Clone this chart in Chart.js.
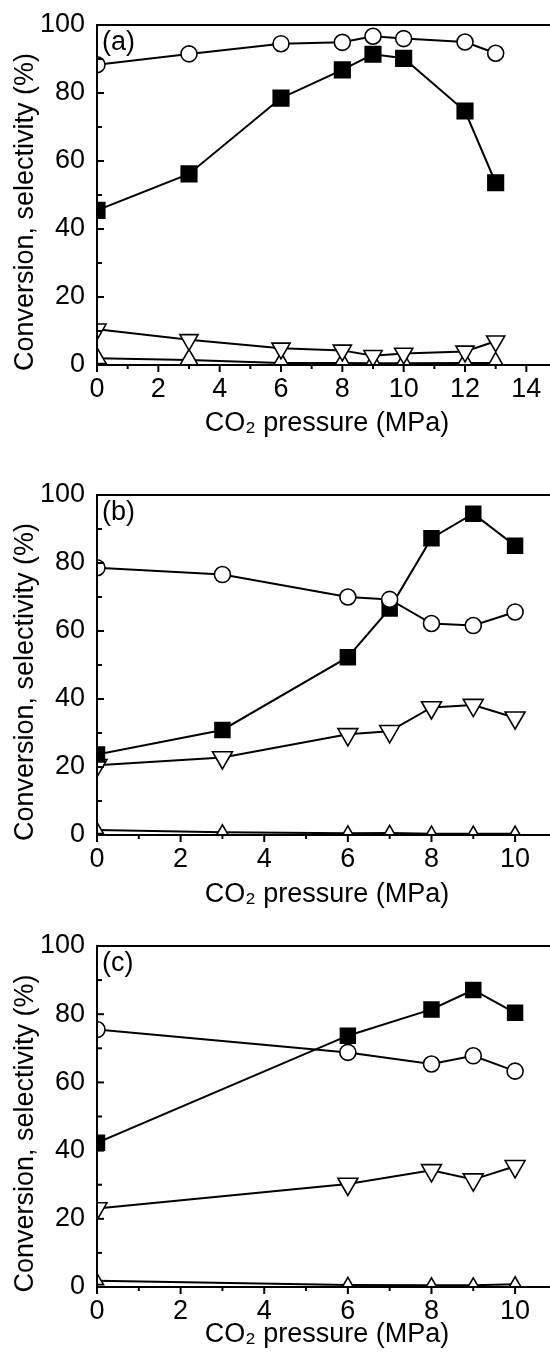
<!DOCTYPE html>
<html><head><meta charset="utf-8">
<script src="https://cdn.jsdelivr.net/npm/chart.js@4.4.1/dist/chart.umd.min.js"></script>
<style>
html,body{margin:0;padding:0;background:#fff;overflow:hidden;width:550px;height:1358px;position:relative;}
.p{position:absolute;left:0;width:570px;}
canvas{display:block;}
</style></head><body>
<div class="p" style="top:0;height:445px"><canvas id="ca"></canvas></div>
<div class="p" style="top:445px;height:470px"><canvas id="cb"></canvas></div>
<div class="p" style="top:915px;height:443px"><canvas id="cc"></canvas></div>
<script>
// ---- data ----
const pressureA = [0, 3, 6, 8, 9, 10, 12, 13];
const conversionA = [45.5, 56.2, 78.5, 86.8, 91.4, 90.2, 74.7, 53.6];
const selCircleA = [88.3, 91.5, 94.5, 94.9, 96.7, 96.0, 95.0, 91.7];
const selDownA = [10.5, 7.4, 4.9, 4.3, 2.7, 3.4, 4.0, 7.0];
const selUpA = [2.0, 1.5, 0.6, 0.6, 0.5, 0.5, 0.6, 0.6];

const pressureB = [0, 3, 6, 7, 8, 9, 10];
const conversionB = [23.7, 30.9, 52.3, 66.6, 87.3, 94.5, 85.1];
const selCircleB = [78.6, 76.6, 70.0, 69.3, 62.2, 61.6, 65.6];
const selDownB = [20.5, 22.8, 29.6, 30.5, 37.5, 38.2, 34.5];
const selUpB = [1.5, 0.8, 0.5, 0.6, 0.4, 0.4, 0.4];

const pressureC = [0, 6, 8, 9, 10];
const conversionC = [42.3, 73.7, 81.4, 87.1, 80.4];
const selCircleC = [75.5, 68.8, 65.4, 67.8, 63.3];
const selDownC = [23.0, 30.2, 34.2, 31.5, 35.4];
const selUpC = [1.8, 0.6, 0.5, 0.5, 0.8];

const panelLabels = ['(a)', '(b)', '(c)'];
const xTitle = 'CO\u2082 pressure (MPa)';
const yTitle = 'Conversion, selectivity (%)';
const xMaxA = 15, xMaxBC = 11;
const yMin = 0, yMax = 100;

const FONT = "'Liberation Sans', Arial, Helvetica, sans-serif";

function pts(xs, ys) { return xs.map((x, i) => ({x: x, y: ys[i]})); }

const framePlugin = {
  id: 'frame',
  afterDraw(chart) {
    const o = chart.options.plugins.frame;
    const ctx = chart.ctx, a = chart.chartArea;
    const xs = chart.scales.x, ys = chart.scales.y;
    ctx.save();
    ctx.strokeStyle = '#000';
    ctx.lineWidth = 2;
    ctx.lineCap = 'square';
    ctx.beginPath();
    ctx.moveTo(a.right + 20, a.top); ctx.lineTo(a.left, a.top);
    ctx.lineTo(a.left, a.bottom); ctx.lineTo(a.right + 20, a.bottom);
    ctx.stroke();
    ctx.lineCap = 'butt';
    ctx.lineWidth = 2;
    // x ticks (outward)
    for (let v = xs.min; v <= xs.max; v += 1) {
      const px = xs.getPixelForValue(v);
      const len = (v % 2 === 0) ? 7 : 4;
      ctx.beginPath(); ctx.moveTo(px, a.bottom); ctx.lineTo(px, a.bottom + len); ctx.stroke();
    }
    // y ticks (inward)
    for (let v = yMin; v <= yMax; v += 10) {
      const py = ys.getPixelForValue(v);
      const len = (v % 20 === 0) ? 7 : 5;
      ctx.beginPath(); ctx.moveTo(a.left, py); ctx.lineTo(a.left + len, py); ctx.stroke();
    }
    ctx.fillStyle = '#000';
    ctx.font = o.fontSize + 'px ' + FONT;
    // panel label
    ctx.textAlign = 'left'; ctx.textBaseline = 'top';
    ctx.fillText(o.label, a.left + 5, a.top + 4);
    // x title
    ctx.textAlign = 'center'; ctx.textBaseline = 'alphabetic';
    ctx.fillText(xTitle, (a.left + a.right) / 2, o.xTitleBase);
    // y title
    ctx.save();
    ctx.translate(o.yTitleX, (a.top + a.bottom) / 2 + o.yTitleShift);
    ctx.rotate(-Math.PI / 2);
    ctx.textBaseline = 'middle';
    ctx.fillText(yTitle, 0, 0);
    ctx.restore();
    ctx.restore();
  }
};

function makePanel(id, cfg) {
  const H = cfg.height;
  const ds = (label, ys, style) => Object.assign({
    label: label, data: pts(cfg.x, ys), borderColor: '#000', borderWidth: 2,
    pointBorderColor: '#000', pointBorderWidth: 1.6, tension: 0, clip: 0
  }, style);
  new Chart(document.getElementById(id), {
    type: 'line',
    data: { datasets: [
      ds('Selectivity (circle)', cfg.circle, {pointStyle: 'circle', pointRadius: 8, pointBackgroundColor: '#fff'}),
      ds('Conversion', cfg.conv, {pointStyle: 'rect', pointRadius: cfg.sq, pointBackgroundColor: '#000'}),
      ds('Selectivity (down triangle)', cfg.down, {pointStyle: 'triangle', pointRotation: 180, pointRadius: cfg.dn, pointBackgroundColor: '#fff'}),
      ds('Selectivity (up triangle)', cfg.up, {pointStyle: 'triangle', pointRadius: cfg.upr, pointBackgroundColor: '#fff'})
    ]},
    options: {
      responsive: true, maintainAspectRatio: false, animation: false,
      events: [],
      layout: { padding: { top: cfg.top, left: 0, right: 13, bottom: 0 } },
      plugins: {
        legend: {display: false}, tooltip: {enabled: false},
        frame: { label: cfg.label, fontSize: 27, xTitleBase: cfg.xTitleBase, yTitleX: 26, yTitleShift: 17 }
      },
      scales: {
        x: {
          type: 'linear', min: 0, max: cfg.xMax,
          grid: {display: false, drawTicks: false}, border: {display: false},
          afterBuildTicks(s) { const t = []; for (let v = 0; v <= cfg.xMax; v++) t.push({value: v}); s.ticks = t; },
          afterFit(s) { s.height = H - cfg.bottom; s.paddingLeft = 0; s.paddingRight = 0; },
          ticks: { autoSkip: false, maxRotation: 0, padding: 8, color: '#000',
            font: {family: FONT, size: 27},
            callback: (v) => (v % 2 === 0 && v <= cfg.xLabMax) ? String(v) : '' }
        },
        y: {
          min: yMin, max: yMax,
          grid: {display: false, drawTicks: false}, border: {display: false},
          afterBuildTicks(s) { const t = []; for (let v = yMin; v <= yMax; v += 10) t.push({value: v}); s.ticks = t; },
          afterFit(s) { s.width = 97; s.paddingTop = 0; s.paddingBottom = 0; },
          ticks: { autoSkip: false, padding: 12, color: '#000',
            font: {family: FONT, size: 27},
            callback: (v) => (v % 20 === 0) ? String(v) : '' }
        }
      }
    },
    plugins: [framePlugin]
  });
}

makePanel('ca', {height: 445, top: 25, bottom: 365, xMax: xMaxA, xLabMax: 14, label: panelLabels[0], xTitleBase: 431,
  x: pressureA, conv: conversionA, circle: selCircleA, down: selDownA, up: selUpA, sq: 11, dn: 10.5, upr: 10.5});
makePanel('cb', {height: 470, top: 50, bottom: 390, xMax: xMaxBC, xLabMax: 10, label: panelLabels[1], xTitleBase: 457,
  x: pressureB, conv: conversionB, circle: selCircleB, down: selDownB, up: selUpB, sq: 10.5, dn: 11.5, upr: 7.5});
makePanel('cc', {height: 443, top: 31, bottom: 372, xMax: xMaxBC, xLabMax: 10, label: panelLabels[2], xTitleBase: 427,
  x: pressureC, conv: conversionC, circle: selCircleC, down: selDownC, up: selUpC, sq: 10.5, dn: 11.5, upr: 7.5});
</script>
</body></html>
